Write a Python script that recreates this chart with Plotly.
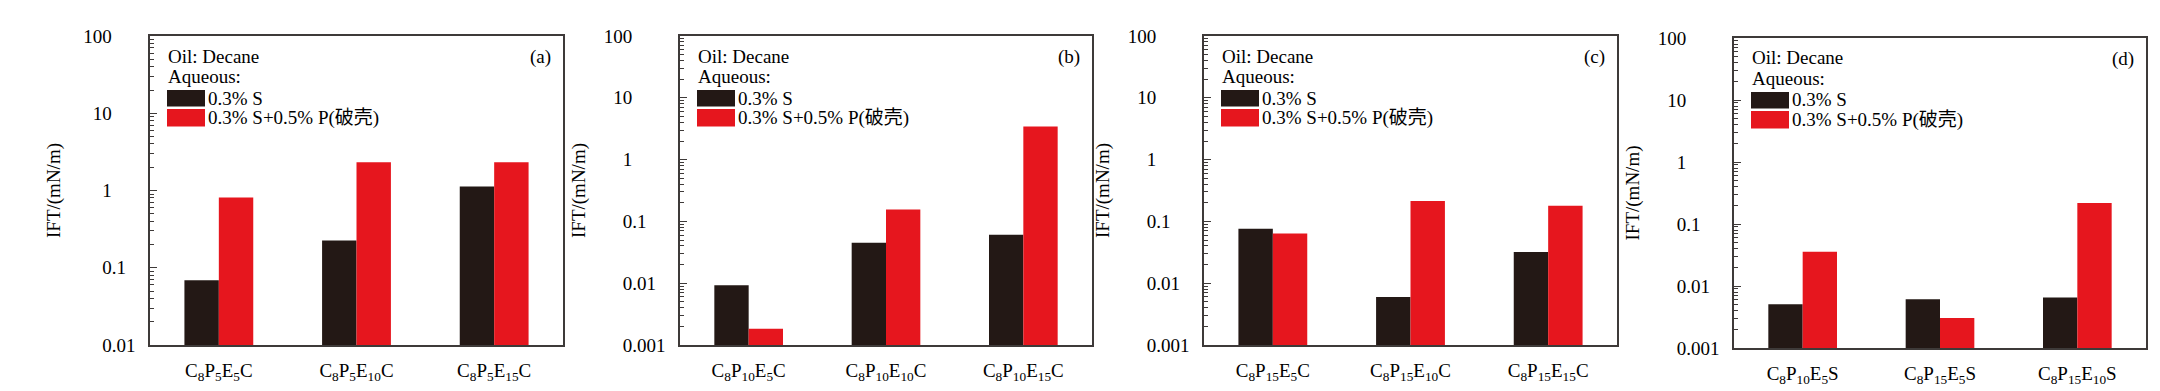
import plotly.graph_objects as go

# ---------------- data ----------------
cats_a = ["C<sub>8</sub>P<sub>5</sub>E<sub>5</sub>C", "C<sub>8</sub>P<sub>5</sub>E<sub>10</sub>C", "C<sub>8</sub>P<sub>5</sub>E<sub>15</sub>C"]
s_a = [0.069, 0.225, 1.13]
sp_a = [0.81, 2.32, 2.32]

cats_b = ["C<sub>8</sub>P<sub>10</sub>E<sub>5</sub>C", "C<sub>8</sub>P<sub>10</sub>E<sub>10</sub>C", "C<sub>8</sub>P<sub>10</sub>E<sub>15</sub>C"]
s_b = [0.0093, 0.045, 0.061]
sp_b = [0.00184, 0.156, 3.42]

cats_c = ["C<sub>8</sub>P<sub>15</sub>E<sub>5</sub>C", "C<sub>8</sub>P<sub>15</sub>E<sub>10</sub>C", "C<sub>8</sub>P<sub>15</sub>E<sub>15</sub>C"]
s_c = [0.076, 0.0060, 0.032]
sp_c = [0.064, 0.213, 0.179]

cats_d = ["C<sub>8</sub>P<sub>10</sub>E<sub>5</sub>S", "C<sub>8</sub>P<sub>15</sub>E<sub>5</sub>S", "C<sub>8</sub>P<sub>15</sub>E<sub>10</sub>S"]
s_d = [0.0051, 0.0061, 0.0065]
sp_d = [0.0357, 0.00305, 0.218]

series_names = ["0.3% S", "0.3% S+0.5% P(破壳)"]
panel_labels = ["(a)", "(b)", "(c)", "(d)"]
y_title = "IFT/(mN/m)"
oil_text = "Oil: Decane"
aq_text = "Aqueous:"

# tick labels (decimal-aligned with non-breaking-space padding)
NB = "\u00a0"
ticks_a_vals = [0.01, 0.1, 1, 10, 100]
ticks_a_text = ["0.01", "0.1" + NB * 2, "1" + NB * 5, "10" + NB * 5, "100" + NB * 5]
ticks_b_vals = [0.001, 0.01, 0.1, 1, 10, 100]
ticks_b_text = ["0.001", "0.01" + NB * 2, "0.1" + NB * 4, "1" + NB * 7, "10" + NB * 7, "100" + NB * 7]

# ---------------- style ----------------
W, H = 2160, 391
FONT = "Liberation Serif, Noto Sans CJK SC, serif"
FS = 19
BLACK = "#231815"
RED = "#E6161E"
AXC = "#3e3a39"

panels = [
    dict(cats=cats_a, s=s_a, sp=sp_a, box=(142, 555, 28, 337), yr=[-2, 2], tv=ticks_a_vals, tt=ticks_a_text, so=18),
    dict(cats=cats_b, s=s_b, sp=sp_b, box=(672, 1084, 28, 337), yr=[-3, 2], tv=ticks_b_vals, tt=ticks_b_text, so=13),
    dict(cats=cats_c, s=s_c, sp=sp_c, box=(1196, 1609, 28, 337), yr=[-3, 2], tv=ticks_b_vals, tt=ticks_b_text, so=13),
    dict(cats=cats_d, s=s_d, sp=sp_d, box=(1726, 2138, 30, 340), yr=[-3, 2], tv=ticks_b_vals, tt=ticks_b_text, so=13),
]

fig = go.Figure()
annotations = []
shapes = []

for i, p in enumerate(panels):
    n = "" if i == 0 else str(i + 1)
    xa, ya = "x" + n, "y" + n
    l, r, t, b = p["box"]
    pw, ph = r - l, b - t

    fig.add_trace(go.Bar(x=p["cats"], y=p["s"], name=series_names[0], marker=dict(color=BLACK, line=dict(width=0)),
                         xaxis=xa, yaxis=ya, showlegend=False))
    fig.add_trace(go.Bar(x=p["cats"], y=p["sp"], name=series_names[1], marker=dict(color=RED, line=dict(width=0)),
                         xaxis=xa, yaxis=ya, showlegend=False))

    minor_vals = []
    for e in range(p["yr"][0], p["yr"][1]):
        for k in range(2, 10):
            minor_vals.append(k * 10 ** e)

    fig.update_layout(**{
        "xaxis" + n: dict(domain=[l / W, r / W], anchor=ya, type="category", range=[-0.5, 2.5],
                          automargin=False,
                          showline=True, linecolor=AXC, linewidth=1.6, mirror=True, ticks="",
                          tickfont=dict(family=FONT, size=FS, color="black"), ticklabelstandoff=7,
                          showgrid=False, zeroline=False, fixedrange=True),
        "yaxis" + n: dict(domain=[1 - b / H, 1 - t / H], anchor=xa, type="log", range=p["yr"],
                          automargin=False,
                          showline=True, linecolor=AXC, linewidth=1.6, mirror=True,
                          ticks="inside", ticklen=7, tickwidth=1.3, tickcolor=AXC,
                          tickmode="array", tickvals=p["tv"], ticktext=p["tt"],
                          tickfont=dict(family=FONT, size=FS, color="black"), ticklabelstandoff=9,
                          minor=dict(tickmode="array", tickvals=minor_vals, ticks="inside", ticklen=4,
                                     tickwidth=1.1, tickcolor=AXC, showgrid=False),
                          title=dict(text=y_title, font=dict(family=FONT, size=FS, color="black"), standoff=p["so"]),
                          showgrid=False, zeroline=False, fixedrange=True),
        # overlay axis only for the short outside stubs of the major ticks
        "yaxis" + str(i + 5): dict(overlaying=ya, anchor=xa, side="left", type="log", range=p["yr"],
                                   automargin=False, showline=False, showticklabels=False,
                                   ticks="outside", ticklen=3, tickwidth=1.3, tickcolor=AXC,
                                   tickmode="array", tickvals=p["tv"],
                                   showgrid=False, zeroline=False, fixedrange=True),
    })

    xd, yd = xa + " domain", ya + " domain"

    def fx(px):
        return px / pw

    def fy(py):
        return 1 - py / ph

    annotations.append(dict(xref=xd, yref=yd, x=fx(16), y=fy(20), text=oil_text, showarrow=False,
                            xanchor="left", yanchor="middle", font=dict(family=FONT, size=FS, color="black")))
    annotations.append(dict(xref=xd, yref=yd, x=fx(16), y=fy(40), text=aq_text, showarrow=False,
                            xanchor="left", yanchor="middle", font=dict(family=FONT, size=FS, color="black")))
    shapes.append(dict(type="rect", xref=xd, yref=yd, x0=fx(17), x1=fx(55), y0=fy(54), y1=fy(70.5),
                       fillcolor=BLACK, line=dict(width=0)))
    shapes.append(dict(type="rect", xref=xd, yref=yd, x0=fx(17), x1=fx(55), y0=fy(73), y1=fy(90.5),
                       fillcolor=RED, line=dict(width=0)))
    annotations.append(dict(xref=xd, yref=yd, x=fx(56), y=fy(62), text=series_names[0], showarrow=False,
                            xanchor="left", yanchor="middle", font=dict(family=FONT, size=FS, color="black")))
    annotations.append(dict(xref=xd, yref=yd, x=fx(56), y=fy(81.5), text=series_names[1], showarrow=False,
                            xanchor="left", yanchor="middle", font=dict(family=FONT, size=FS, color="black")))
    annotations.append(dict(xref=xd, yref=yd, x=fx(pw - 10), y=fy(21), text=panel_labels[i], showarrow=False,
                            xanchor="right", yanchor="middle", font=dict(family=FONT, size=FS, color="black")))

fig.update_layout(
    width=W, height=H, margin=dict(l=0, r=0, t=0, b=0, autoexpand=False),
    paper_bgcolor="white", plot_bgcolor="white",
    barmode="group", bargap=0.5, bargroupgap=0,
    annotations=annotations, shapes=shapes,
    font=dict(family=FONT, size=FS, color="black"),
)

fig.write_html("out.html")
